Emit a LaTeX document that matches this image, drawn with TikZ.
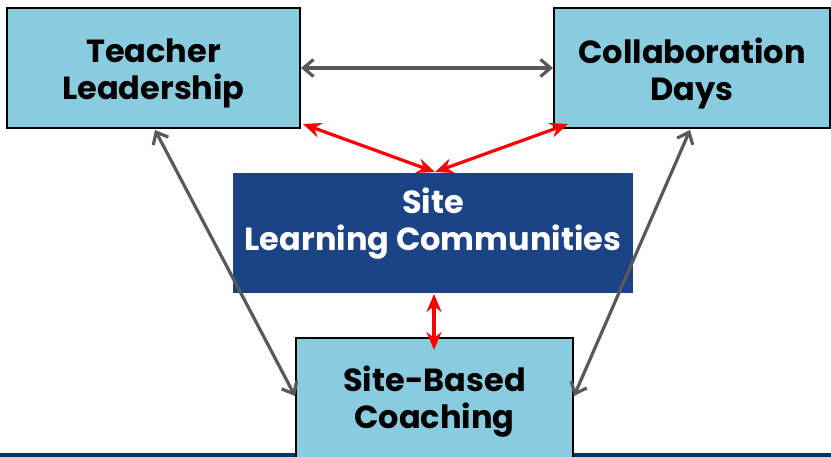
\documentclass[tikz,border=0pt]{standalone}
\usepackage{fontspec}
\setmainfont{Poppins}[BoldFont={* Bold}]
\usetikzlibrary{arrows.meta}
\definecolor{boxblue}{HTML}{89CBDF}
\definecolor{navy}{HTML}{1D4387}
\definecolor{stripnavy}{HTML}{003865}
\definecolor{linkgray}{HTML}{595959}
\definecolor{linkred}{HTML}{FF0000}
\tikzset{
  x=1pt, y=-1pt,
  labelfont/.style={font=\bfseries\fontsize{32}{37}\selectfont, align=center},
  topicbox/.style={draw=black, line width=1.4pt, fill=boxblue, inner sep=0pt},
  hubbox/.style={fill=navy, inner sep=0pt},
  graylink/.style={draw=linkgray, line width=3.2pt,
    {Straight Barb[length=10pt,width=17pt]}-{Straight Barb[length=10pt,width=17pt]}},
  redlink/.style={draw=linkred, line width=3.2pt,
    {Stealth[length=18pt,width=15pt,inset=6pt]}-{Stealth[length=18pt,width=15pt,inset=6pt]}}
}
\begin{document}
\begin{tikzpicture}
\useasboundingbox (0,0) rectangle (831,457);
% bottom band
\fill[stripnavy] (0,453) rectangle (831,458);
% boxes
\node[topicbox, minimum width=293pt, minimum height=120pt] (tl) at (153.5,68) {};
\node[labelfont] (tllabel) at (153.5,73) {Teacher\\Leadership};
\node[topicbox, minimum width=276pt, minimum height=120pt] (cd) at (692,68) {};
\node[labelfont] (cdlabel) at (692,73) {Collaboration\\Days};
\node[hubbox, minimum width=400pt, minimum height=120pt] (slc) at (433,233) {};
\node[labelfont, text=white] (slclabel) at (433,224) {Site\\Learning Communities};
\begin{scope}
\clip (0,0) rectangle (831,457);
\node[topicbox, minimum width=277pt, minimum height=150pt] (sbc) at (434.5,413) {};
\end{scope}
\node[labelfont] (sbclabel) at (434.5,402) {Site-Based\\Coaching};
% connector end points
\coordinate (tlR) at (301,68);
\coordinate (cdL) at (553,68);
\coordinate (tlBR) at (303,124);
\coordinate (cdBL) at (568,124);
\coordinate (slcT) at (435,172);
\coordinate (slcB) at (434,294);
\coordinate (sbcT) at (434,350);
\coordinate (tlB) at (155,130);
\coordinate (sbcL) at (295,396);
\coordinate (cdB) at (690,130);
\coordinate (sbcR) at (574,396);
% connectors
\draw[graylink] (tlR) -- (cdL);
\draw[graylink] (tlB) -- (sbcL);
\draw[graylink] (cdB) -- (sbcR);
\draw[redlink] (tlBR) -- (slcT);
\draw[redlink] (cdBL) -- (slcT);
\draw[redlink] (slcB) -- (sbcT);
\end{tikzpicture}
\end{document}
